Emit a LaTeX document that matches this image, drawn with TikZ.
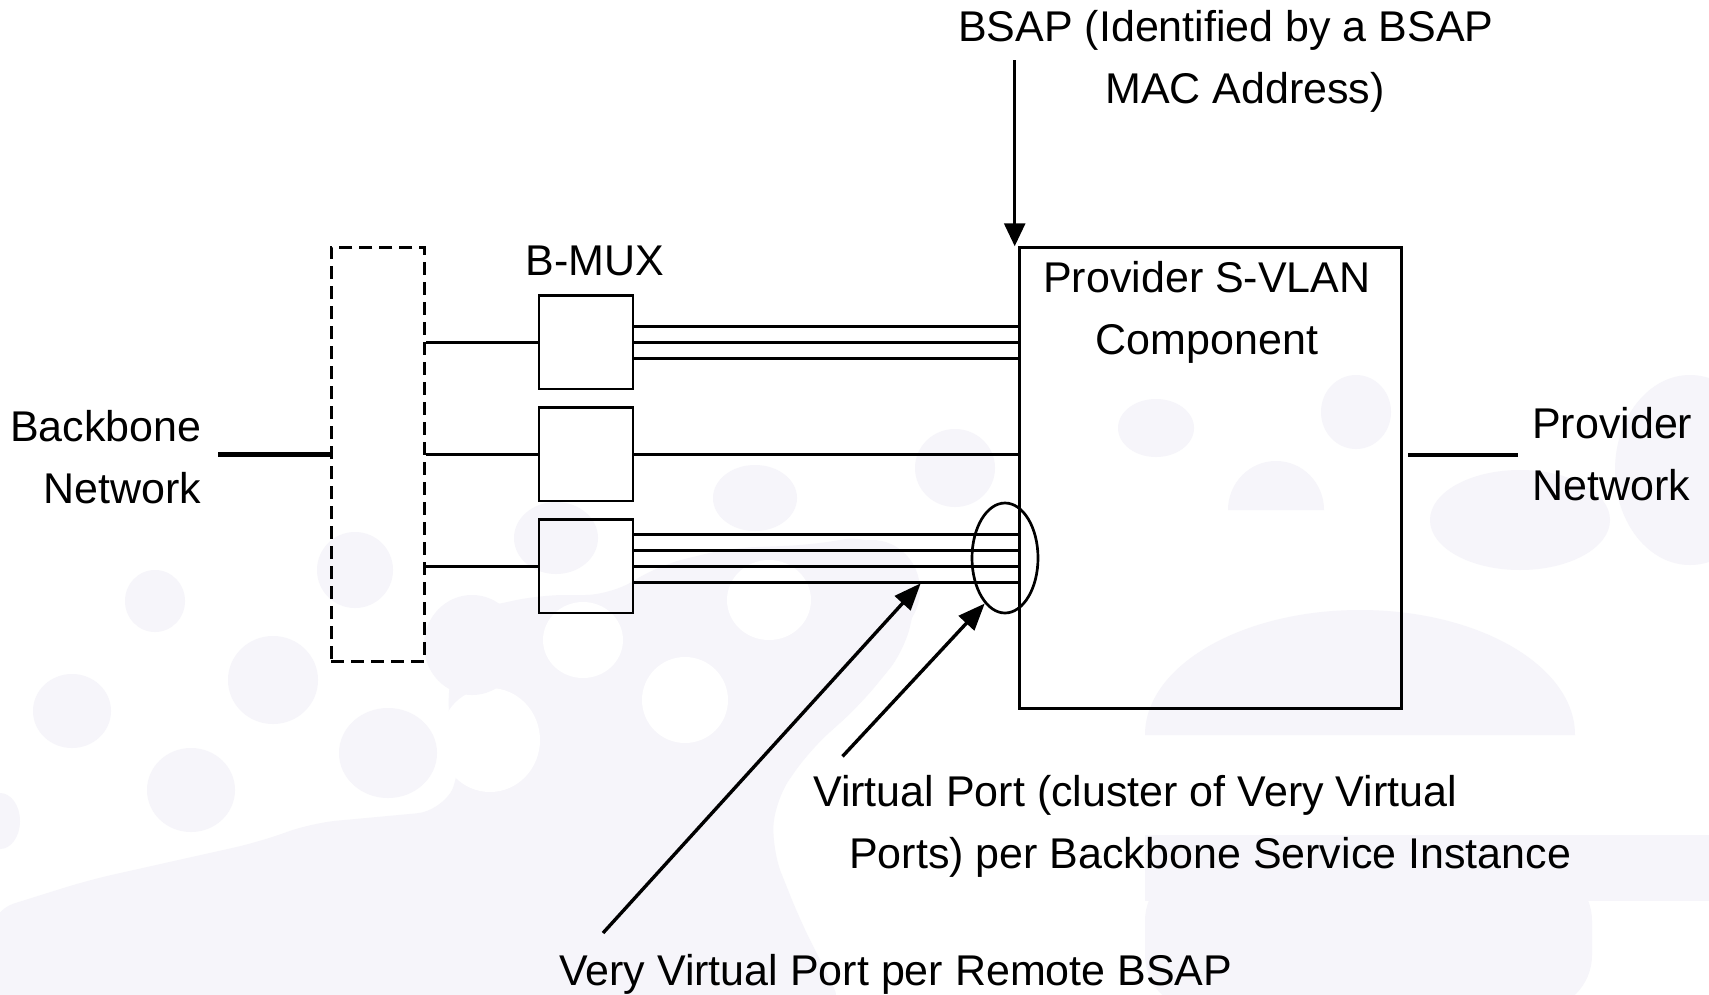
\documentclass[tikz,border=0pt]{standalone}
\usepackage{fontspec}
\setmainfont{Liberation Sans}
\usetikzlibrary{arrows.meta,shapes.geometric,calc}
\definecolor{wmark}{RGB}{246,245,250}
\begin{document}
\begin{tikzpicture}[x=1pt,y=-1pt,
  every node/.style={font=\fontsize{43}{61.5}\selectfont, inner sep=0pt},
  wire/.style={line width=2.9pt},
  trunk/.style={line width=4.8pt},
  muxbox/.style={draw, line width=2.9pt, minimum width=94pt, minimum height=93.3pt},
  hubbox/.style={draw, dash pattern=on 13pt off 7pt, line width=2.7pt,
                 minimum width=93.5pt, minimum height=414pt},
  svlanbox/.style={draw, line width=2.9pt, minimum width=381.7pt, minimum height=460.6pt},
  portring/.style={draw, ellipse, line width=2.7pt, minimum width=66pt, minimum height=110pt},
  pointer/.style={line width=3.4pt, -{Triangle[length=27pt,width=21pt]}},
  droparrow/.style={line width=2.9pt, -{Triangle[length=23pt,width=21pt]}}
]
\useasboundingbox (0,0) rectangle (1709,994);
\fill[white] (0,0) rectangle (1709,994);

% faint watermark behind the drawing
\fill[wmark, rounded corners=25pt] (-10,1010) -- (-10,911) -- (89,880) -- (259,842) -- (312,823)
  -- (442,811) -- (462,770) -- (445,700) -- (470,610) -- (540,595) -- (610,595) -- (660,565)
  -- (730,548) -- (810,545) -- (870,535) -- (920,580) -- (905,650) -- (860,705) -- (810,750)
  -- (775,800) -- (772,850) -- (800,920) -- (845,1010) -- cycle;
\fill[white] (490,740) ellipse [x radius=50, y radius=52];
\fill[white] (685,700) ellipse [x radius=43, y radius=43];
\fill[white] (583,640) ellipse [x radius=40, y radius=38];
\fill[white] (769,600) ellipse [x radius=42, y radius=40];
\foreach \cx/\cy/\rx/\ry in {355/570/38/38, 155/601/30/31, 273/680/45/44, 72/711/39/37,
    191/790/44/42, 472/645/48/50, 388/753/49/45, 556/538/42/36, 0/821/20/28,
    755/498/42/33, 955/468/40/39, 1156/428/38/29, 1356/412/35/37, 872/590/48/50}
  \fill[wmark] (\cx,\cy) ellipse [x radius=\rx, y radius=\ry];
\fill[wmark] (1228,510) arc[start angle=180, end angle=360, x radius=48, y radius=49] -- cycle;
\fill[wmark] (1145,735) arc[start angle=180, end angle=360, x radius=215, y radius=125] -- cycle;
\fill[wmark] (1145,835) rectangle (1720,901);
\fill[wmark, rounded corners=55pt] (1145,866) rectangle (1592,1010);
\fill[wmark] (1520,520) ellipse [x radius=90, y radius=50];
\fill[wmark] (1690,470) ellipse [x radius=75, y radius=95];

% boxes
\node[hubbox] (hub) at (378,454.2) {};
\node[muxbox] (m1) at (586,342.3) {};
\node[muxbox] (m2) at (586,454.3) {};
\node[muxbox] (m3) at (586,566.3) {};
\node[svlanbox] (svlan) at (1210.5,478) {};

% labels (base anchors of two-line labels sit on the last line)
\node[anchor=base] (muxlabel) at (595,275) {B-MUX};
\node[anchor=base, align=center] (svlantext) at (1207,354) {Provider S-VLAN\\Component};
\node[anchor=base west, align=left] (bsap) at (958,103.3)
  {BSAP (Identified by a BSAP\\\hspace*{147pt}MAC Address)};
\node[anchor=base east, align=right] (bbtext) at (201.6,503) {Backbone\\Network};
\node[anchor=base west, align=left] (pntext) at (1532,500) {Provider\\Network};
\node[anchor=base west, align=left] (vptext) at (813,868)
  {Virtual Port (cluster of Very Virtual\\\hspace*{36pt}Ports) per Backbone Service Instance};
\node[anchor=base west] (vvtext) at (559,985) {Very Virtual Port per Remote BSAP};

% external network stubs
\coordinate (bbend) at (218,454.3);
\draw[trunk] (bbend) -- (bbend -| hub.west);
\coordinate (pnstart) at (1408,455);
\coordinate (pnend) at (1518,455);
\draw[trunk] (pnstart) -- (pnend);

% hub to multiplexers
\foreach \m in {m1,m2,m3}
  \draw[wire] (hub.east |- \m) -- (\m.west);

% multiplexers to the S-VLAN component
\foreach \dy [count=\i] in {-16,0,16}{
  \coordinate (a\i) at ($(m1.east)+(0,\dy)$);
  \draw[wire] (a\i) -- (a\i -| svlan.west);
}
\draw[wire] (m2.east) -- (m2.east -| svlan.west);
\foreach \dy [count=\i] in {-32,-16,0,16}{
  \coordinate (c\i) at ($(m3.east)+(0,\dy)$);
  \draw[wire] (c\i) -- (c\i -| svlan.west);
}

% virtual port ring
\node[portring] (vp) at (1005,558) {};

% pointers
\coordinate (bsaptail) at (1014.7,60);
\draw[droparrow] (bsaptail) -- (bsaptail |- svlan.north);
\coordinate (vvtail) at (603,933);
\coordinate (vvtip) at (920.7,583.3);
\draw[pointer] (vvtail) -- (vvtip);
\coordinate (vptail) at (842.5,756.4);
\draw[pointer] (vptail) -- (vp.246);
\end{tikzpicture}
\end{document}
